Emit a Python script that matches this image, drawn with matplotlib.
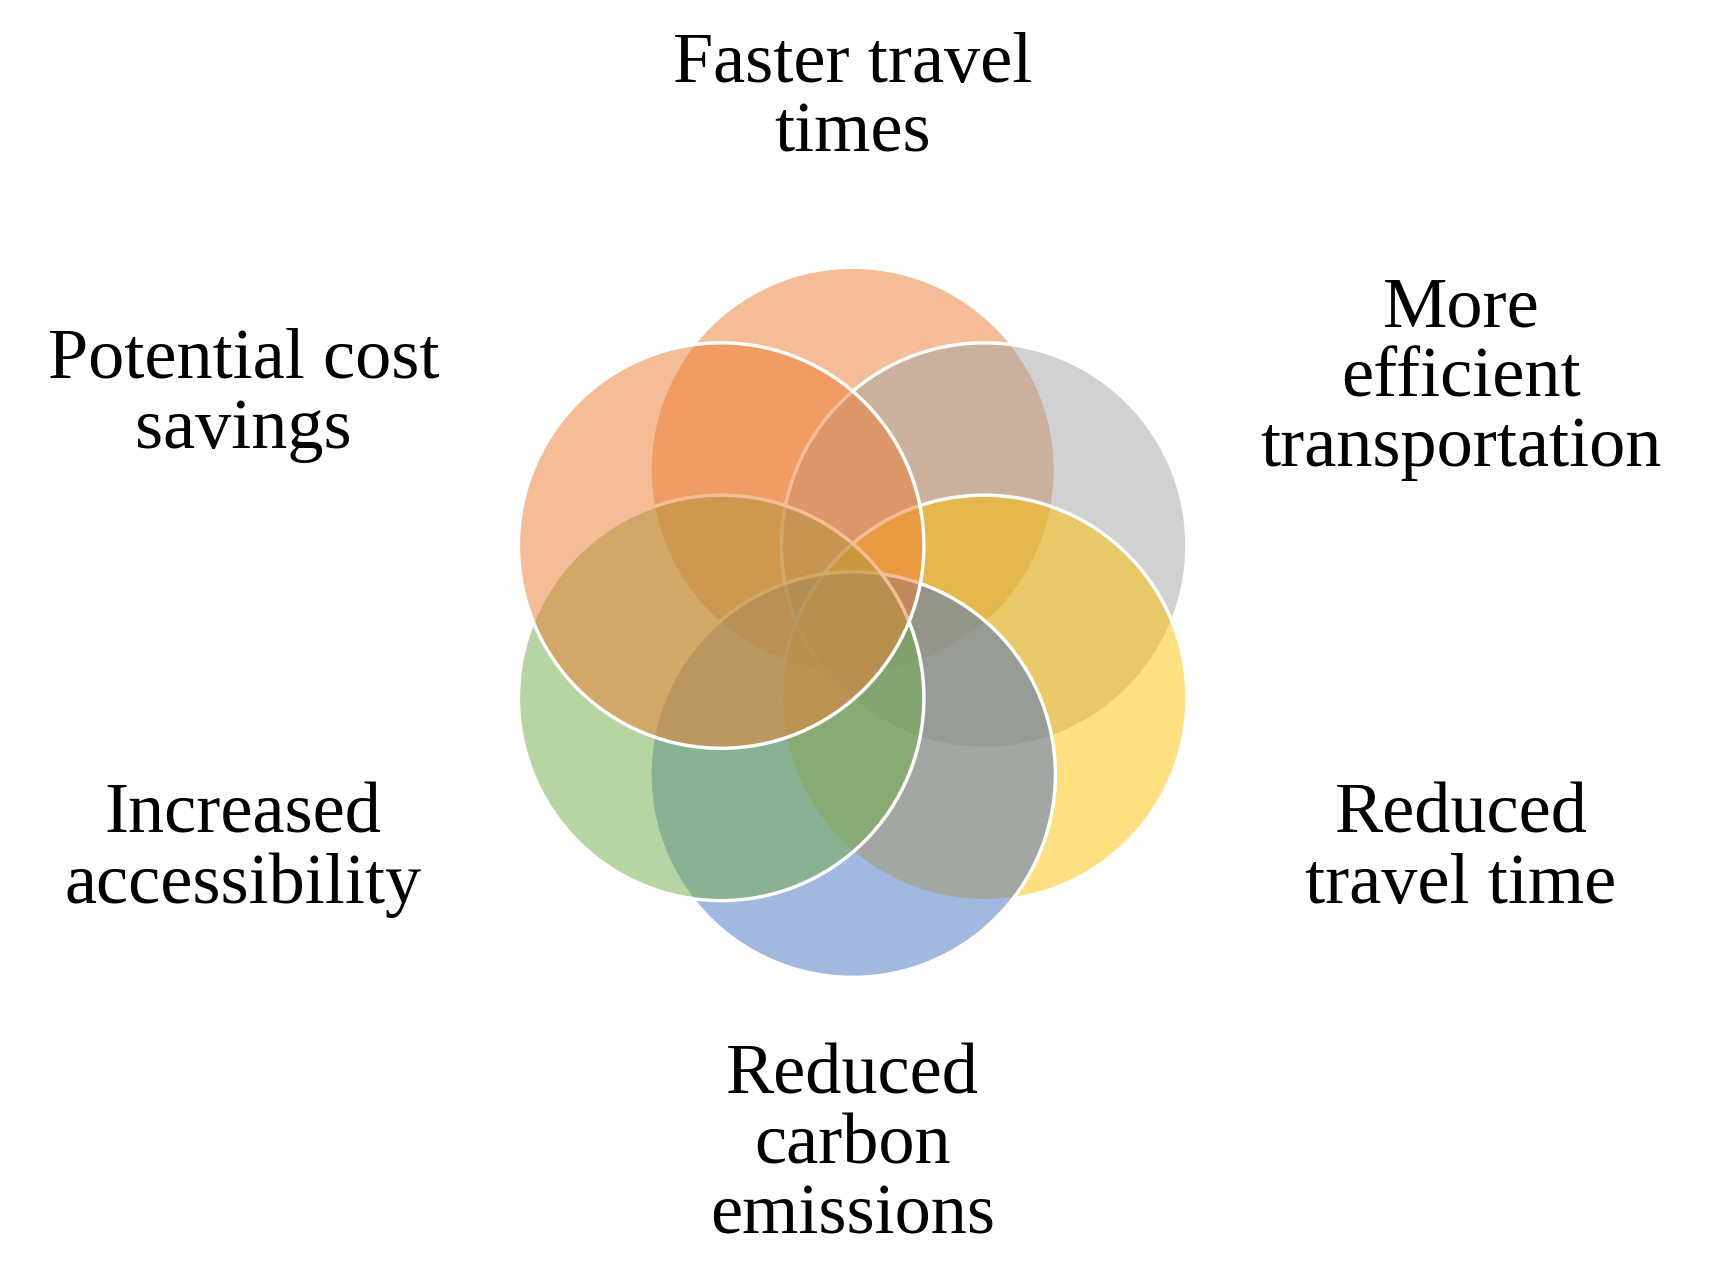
import matplotlib.pyplot as plt
from matplotlib.patches import Circle

# circle centres in picture units (x right, y down), drawing order = stacking order
labels = ["Faster travel\ntimes", "More\nefficient\ntransportation", "Reduced\ntravel time",
          "Reduced\ncarbon\nemissions", "Increased\naccessibility", "Potential cost\nsavings"]
centers_x = [778, 898, 898, 778, 658, 658]
centers_y = [428, 497, 636, 706, 636, 497]
colors = ["#ED7D31", "#A5A5A5", "#FFC000", "#4472C4", "#70AD47", "#ED7D31"]
label_x = [778, 1333, 1333, 778, 222, 222]
label_y = [90, 345, 775, 1045, 775, 360]
radius = 185

fig = plt.figure(figsize=(17.13, 12.84), dpi=100)
ax = fig.add_axes([0, 0, 1, 1])
ax.set_xlim(0, 1563)
ax.set_ylim(1170, 0)
ax.set_aspect("equal")
ax.axis("off")

for x, y, c in zip(centers_x, centers_y, colors):
    ax.add_patch(Circle((x, y), radius, facecolor=c, alpha=0.5, edgecolor="none"))
    ax.add_patch(Circle((x, y), radius, facecolor="none", edgecolor="white", linewidth=2.5))

for t, x, y in zip(labels, label_x, label_y):
    ax.text(x, y, t, ha="center", va="center", fontsize=52,
            family="Liberation Serif", linespacing=1.1)

fig.savefig("out.png", dpi=100, facecolor="white")
